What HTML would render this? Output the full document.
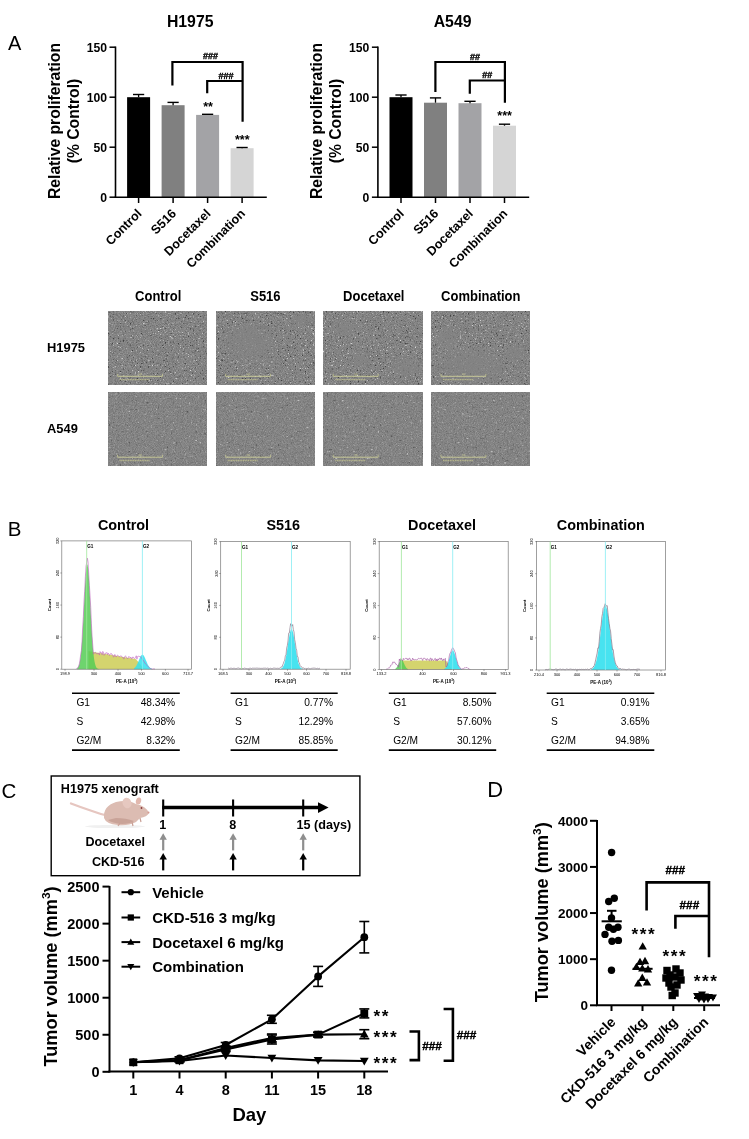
<!DOCTYPE html>
<html><head><meta charset="utf-8"><style>
html,body{margin:0;padding:0;background:#fff;width:749px;height:1139px;overflow:hidden}
svg{display:block;font-family:"Liberation Sans",sans-serif;will-change:transform}
</style></head><body>
<svg width="749" height="1139" viewBox="0 0 749 1139" font-family="Liberation Sans, sans-serif">
<defs>
<filter id="nA" x="0" y="0" width="100%" height="100%" color-interpolation-filters="sRGB">
<feTurbulence type="fractalNoise" baseFrequency="1.1" numOctaves="2" seed="3" result="t1"/>
<feColorMatrix in="t1" type="matrix" values="0.22 0 0 0 0.405  0.22 0 0 0 0.405  0.22 0 0 0 0.405  0 0 0 0 1" result="g"/>
<feTurbulence type="fractalNoise" baseFrequency="0.45" numOctaves="1" seed="11" result="t2"/>
<feColorMatrix in="t2" type="matrix" values="0 0 0 0 0.3  0 0 0 0 0.3  0 0 0 0 0.3  5 0 0 0 -3.3" result="d"/>
<feColorMatrix in="t2" type="matrix" values="0 0 0 0 0.8  0 0 0 0 0.8  0 0 0 0 0.8  0 5 0 0 -3.3" result="b"/>
<feMerge><feMergeNode in="g"/><feMergeNode in="d"/><feMergeNode in="b"/></feMerge>
</filter>
<filter id="nH" x="0" y="0" width="100%" height="100%" color-interpolation-filters="sRGB">
<feTurbulence type="fractalNoise" baseFrequency="1.1" numOctaves="2" seed="5" result="t1"/>
<feColorMatrix in="t1" type="matrix" values="0.24 0 0 0 0.395  0.24 0 0 0 0.395  0.24 0 0 0 0.395  0 0 0 0 1" result="g"/>
<feTurbulence type="fractalNoise" baseFrequency="0.6" numOctaves="2" seed="17" result="t2"/>
<feColorMatrix in="t2" type="matrix" values="0 0 0 0 0.25  0 0 0 0 0.25  0 0 0 0 0.25  5 0 0 0 -3.15" result="d"/>
<feColorMatrix in="t2" type="matrix" values="0 0 0 0 0.85  0 0 0 0 0.85  0 0 0 0 0.85  0 5 0 0 -3.25" result="b"/>
<feMerge><feMergeNode in="g"/><feMergeNode in="d"/><feMergeNode in="b"/></feMerge>
</filter>
<radialGradient id="clr"><stop offset="0" stop-color="#838383" stop-opacity="0.85"/><stop offset="0.6" stop-color="#838383" stop-opacity="0.6"/><stop offset="1" stop-color="#838383" stop-opacity="0"/></radialGradient>
</defs>
<rect width="749" height="1139" fill="#fff"/>
<text x="8.00" y="50.00" font-size="20"  text-anchor="start" fill="#000" >A</text>
<text x="190.20" y="26.80" font-size="15.8" font-weight="bold" text-anchor="middle" fill="#000" >H1975</text>
<text x="59.70" y="121.00" font-size="15.7" font-weight="bold" text-anchor="middle" fill="#000" transform="rotate(-90 59.70 121.00)" >Relative proliferation</text>
<text x="78.60" y="121.00" font-size="15.7" font-weight="bold" text-anchor="middle" fill="#000" transform="rotate(-90 78.60 121.00)" >(% Control)</text>
<rect x="127.10" y="97.20" width="23.00" height="100.00" fill="#000000" stroke="none" stroke-width="0" />
<line x1="138.60" y1="97.20" x2="138.60" y2="94.50" stroke="#000" stroke-width="1.3" />
<line x1="133.00" y1="94.50" x2="144.20" y2="94.50" stroke="#000" stroke-width="1.4" />
<rect x="161.60" y="105.20" width="23.00" height="92.00" fill="#808080" stroke="none" stroke-width="0" />
<line x1="173.10" y1="105.20" x2="173.10" y2="102.40" stroke="#000" stroke-width="1.3" />
<line x1="167.50" y1="102.40" x2="178.70" y2="102.40" stroke="#000" stroke-width="1.4" />
<rect x="196.10" y="114.90" width="23.00" height="82.30" fill="#a3a3a6" stroke="none" stroke-width="0" />
<line x1="207.60" y1="114.90" x2="207.60" y2="114.30" stroke="#000" stroke-width="1.3" />
<line x1="202.00" y1="114.30" x2="213.20" y2="114.30" stroke="#000" stroke-width="1.4" />
<rect x="230.60" y="148.20" width="23.00" height="49.00" fill="#d5d5d5" stroke="none" stroke-width="0" />
<line x1="242.10" y1="148.20" x2="242.10" y2="147.50" stroke="#000" stroke-width="1.3" />
<line x1="236.50" y1="147.50" x2="247.70" y2="147.50" stroke="#000" stroke-width="1.4" />
<line x1="115.50" y1="46.50" x2="115.50" y2="197.90" stroke="#000" stroke-width="1.6" />
<line x1="114.70" y1="197.20" x2="266.80" y2="197.20" stroke="#000" stroke-width="1.6" />
<line x1="109.50" y1="197.20" x2="115.50" y2="197.20" stroke="#000" stroke-width="1.5" />
<text x="107.00" y="201.50" font-size="12.2" font-weight="bold" text-anchor="end" fill="#000" >0</text>
<line x1="109.50" y1="147.20" x2="115.50" y2="147.20" stroke="#000" stroke-width="1.5" />
<text x="107.00" y="151.50" font-size="12.2" font-weight="bold" text-anchor="end" fill="#000" >50</text>
<line x1="109.50" y1="97.20" x2="115.50" y2="97.20" stroke="#000" stroke-width="1.5" />
<text x="107.00" y="101.50" font-size="12.2" font-weight="bold" text-anchor="end" fill="#000" >100</text>
<line x1="109.50" y1="47.20" x2="115.50" y2="47.20" stroke="#000" stroke-width="1.5" />
<text x="107.00" y="51.50" font-size="12.2" font-weight="bold" text-anchor="end" fill="#000" >150</text>
<line x1="138.60" y1="197.20" x2="138.60" y2="203.00" stroke="#000" stroke-width="1.5" />
<line x1="173.10" y1="197.20" x2="173.10" y2="203.00" stroke="#000" stroke-width="1.5" />
<line x1="207.60" y1="197.20" x2="207.60" y2="203.00" stroke="#000" stroke-width="1.5" />
<line x1="242.10" y1="197.20" x2="242.10" y2="203.00" stroke="#000" stroke-width="1.5" />
<text x="142.40" y="214.30" font-size="12.6" font-weight="bold" text-anchor="end" fill="#000" transform="rotate(-45 142.40 214.30)" >Control</text>
<text x="176.90" y="214.30" font-size="12.6" font-weight="bold" text-anchor="end" fill="#000" transform="rotate(-45 176.90 214.30)" >S516</text>
<text x="211.40" y="214.30" font-size="12.6" font-weight="bold" text-anchor="end" fill="#000" transform="rotate(-45 211.40 214.30)" >Docetaxel</text>
<text x="245.90" y="214.30" font-size="12.6" font-weight="bold" text-anchor="end" fill="#000" transform="rotate(-45 245.90 214.30)" >Combination</text>
<polyline points="172.40,85.60 172.40,62.00 242.60,62.00 242.60,121.80" stroke="#000" stroke-width="2.2" fill="none" stroke-linejoin="miter" stroke-linecap="butt"/>
<polyline points="207.20,93.30 207.20,81.00 242.60,81.00" stroke="#000" stroke-width="2.2" fill="none" stroke-linejoin="miter" stroke-linecap="butt"/>
<text x="210.50" y="59.20" font-size="9" font-weight="bold" text-anchor="middle" fill="#000" stroke="#000" stroke-width="0.35">###</text>
<text x="226.00" y="78.60" font-size="9" font-weight="bold" text-anchor="middle" fill="#000" stroke="#000" stroke-width="0.35">###</text>
<text x="208.00" y="110.50" font-size="12.5" font-weight="bold" text-anchor="middle" fill="#000" >**</text>
<text x="242.30" y="144.00" font-size="12.5" font-weight="bold" text-anchor="middle" fill="#000" >***</text>
<text x="452.60" y="26.80" font-size="15.8" font-weight="bold" text-anchor="middle" fill="#000" >A549</text>
<text x="322.10" y="121.00" font-size="15.7" font-weight="bold" text-anchor="middle" fill="#000" transform="rotate(-90 322.10 121.00)" >Relative proliferation</text>
<text x="341.00" y="121.00" font-size="15.7" font-weight="bold" text-anchor="middle" fill="#000" transform="rotate(-90 341.00 121.00)" >(% Control)</text>
<rect x="389.50" y="97.20" width="23.00" height="100.00" fill="#000000" stroke="none" stroke-width="0" />
<line x1="401.00" y1="97.20" x2="401.00" y2="95.00" stroke="#000" stroke-width="1.3" />
<line x1="395.40" y1="95.00" x2="406.60" y2="95.00" stroke="#000" stroke-width="1.4" />
<rect x="424.00" y="102.70" width="23.00" height="94.50" fill="#808080" stroke="none" stroke-width="0" />
<line x1="435.50" y1="102.70" x2="435.50" y2="97.90" stroke="#000" stroke-width="1.3" />
<line x1="429.90" y1="97.90" x2="441.10" y2="97.90" stroke="#000" stroke-width="1.4" />
<rect x="458.50" y="103.20" width="23.00" height="94.00" fill="#a3a3a6" stroke="none" stroke-width="0" />
<line x1="470.00" y1="103.20" x2="470.00" y2="101.30" stroke="#000" stroke-width="1.3" />
<line x1="464.40" y1="101.30" x2="475.60" y2="101.30" stroke="#000" stroke-width="1.4" />
<rect x="493.00" y="125.70" width="23.00" height="71.50" fill="#d5d5d5" stroke="none" stroke-width="0" />
<line x1="504.50" y1="125.70" x2="504.50" y2="124.20" stroke="#000" stroke-width="1.3" />
<line x1="498.90" y1="124.20" x2="510.10" y2="124.20" stroke="#000" stroke-width="1.4" />
<line x1="377.90" y1="46.50" x2="377.90" y2="197.90" stroke="#000" stroke-width="1.6" />
<line x1="377.10" y1="197.20" x2="529.20" y2="197.20" stroke="#000" stroke-width="1.6" />
<line x1="371.90" y1="197.20" x2="377.90" y2="197.20" stroke="#000" stroke-width="1.5" />
<text x="369.40" y="201.50" font-size="12.2" font-weight="bold" text-anchor="end" fill="#000" >0</text>
<line x1="371.90" y1="147.20" x2="377.90" y2="147.20" stroke="#000" stroke-width="1.5" />
<text x="369.40" y="151.50" font-size="12.2" font-weight="bold" text-anchor="end" fill="#000" >50</text>
<line x1="371.90" y1="97.20" x2="377.90" y2="97.20" stroke="#000" stroke-width="1.5" />
<text x="369.40" y="101.50" font-size="12.2" font-weight="bold" text-anchor="end" fill="#000" >100</text>
<line x1="371.90" y1="47.20" x2="377.90" y2="47.20" stroke="#000" stroke-width="1.5" />
<text x="369.40" y="51.50" font-size="12.2" font-weight="bold" text-anchor="end" fill="#000" >150</text>
<line x1="401.00" y1="197.20" x2="401.00" y2="203.00" stroke="#000" stroke-width="1.5" />
<line x1="435.50" y1="197.20" x2="435.50" y2="203.00" stroke="#000" stroke-width="1.5" />
<line x1="470.00" y1="197.20" x2="470.00" y2="203.00" stroke="#000" stroke-width="1.5" />
<line x1="504.50" y1="197.20" x2="504.50" y2="203.00" stroke="#000" stroke-width="1.5" />
<text x="404.80" y="214.30" font-size="12.6" font-weight="bold" text-anchor="end" fill="#000" transform="rotate(-45 404.80 214.30)" >Control</text>
<text x="439.30" y="214.30" font-size="12.6" font-weight="bold" text-anchor="end" fill="#000" transform="rotate(-45 439.30 214.30)" >S516</text>
<text x="473.80" y="214.30" font-size="12.6" font-weight="bold" text-anchor="end" fill="#000" transform="rotate(-45 473.80 214.30)" >Docetaxel</text>
<text x="508.30" y="214.30" font-size="12.6" font-weight="bold" text-anchor="end" fill="#000" transform="rotate(-45 508.30 214.30)" >Combination</text>
<polyline points="435.40,92.00 435.40,62.00 504.90,62.00 504.90,102.80" stroke="#000" stroke-width="2.2" fill="none" stroke-linejoin="miter" stroke-linecap="butt"/>
<polyline points="469.80,93.70 469.80,80.50 504.90,80.50" stroke="#000" stroke-width="2.2" fill="none" stroke-linejoin="miter" stroke-linecap="butt"/>
<text x="475.00" y="60.20" font-size="9" font-weight="bold" text-anchor="middle" fill="#000" stroke="#000" stroke-width="0.35">##</text>
<text x="487.30" y="78.40" font-size="9" font-weight="bold" text-anchor="middle" fill="#000" stroke="#000" stroke-width="0.35">##</text>
<text x="504.60" y="120.00" font-size="12.5" font-weight="bold" text-anchor="middle" fill="#000" >***</text>
<text x="0" y="0" font-size="13" font-weight="bold" text-anchor="middle" fill="#000" transform="translate(158.20 300.80) scale(1 1.1)">Control</text>
<text x="0" y="0" font-size="13" font-weight="bold" text-anchor="middle" fill="#000" transform="translate(265.40 300.80) scale(1 1.1)">S516</text>
<text x="0" y="0" font-size="13" font-weight="bold" text-anchor="middle" fill="#000" transform="translate(373.80 300.80) scale(1 1.1)">Docetaxel</text>
<text x="0" y="0" font-size="13" font-weight="bold" text-anchor="middle" fill="#000" transform="translate(480.80 300.80) scale(1 1.1)">Combination</text>
<text x="0" y="0" font-size="12.9" font-weight="bold" text-anchor="start" fill="#000" transform="translate(47.00 351.90) scale(1 1.03)">H1975</text>
<text x="0" y="0" font-size="12.9" font-weight="bold" text-anchor="start" fill="#000" transform="translate(47.00 433.30) scale(1 1.03)">A549</text>
<rect x="108.00" y="311.20" width="98.50" height="73.00" fill="#8c8c8c" stroke="none" stroke-width="0" filter="url(#nH)"/>
<line x1="117.60" y1="376.30" x2="162.50" y2="376.30" stroke="#cfd09a" stroke-width="0.9" />
<line x1="117.60" y1="373.80" x2="117.60" y2="376.30" stroke="#cfd09a" stroke-width="0.7" />
<line x1="162.50" y1="373.80" x2="162.50" y2="376.30" stroke="#cfd09a" stroke-width="0.7" />
<line x1="138.50" y1="374.10" x2="142.00" y2="374.10" stroke="#cfd09a" stroke-width="0.7" />
<line x1="119.50" y1="379.60" x2="149.50" y2="379.60" stroke="#b4b48c" stroke-width="1.3" stroke-dasharray="1.2 0.5"/>
<rect x="216.10" y="311.20" width="98.50" height="73.00" fill="#8c8c8c" stroke="none" stroke-width="0" filter="url(#nH)"/>
<clipPath id="cp216"><rect x="216.1" y="311.2" width="98.5" height="73"/></clipPath><g clip-path="url(#cp216)">
<ellipse cx="250" cy="342" rx="30" ry="24" fill="url(#clr)"/>
<ellipse cx="300" cy="320" rx="10" ry="8" fill="url(#clr)"/>
</g>
<line x1="225.70" y1="376.30" x2="270.60" y2="376.30" stroke="#cfd09a" stroke-width="0.9" />
<line x1="225.70" y1="373.80" x2="225.70" y2="376.30" stroke="#cfd09a" stroke-width="0.7" />
<line x1="270.60" y1="373.80" x2="270.60" y2="376.30" stroke="#cfd09a" stroke-width="0.7" />
<line x1="246.60" y1="374.10" x2="250.10" y2="374.10" stroke="#cfd09a" stroke-width="0.7" />
<line x1="227.60" y1="379.60" x2="257.60" y2="379.60" stroke="#b4b48c" stroke-width="1.3" stroke-dasharray="1.2 0.5"/>
<rect x="323.70" y="311.20" width="98.50" height="73.00" fill="#8c8c8c" stroke="none" stroke-width="0" filter="url(#nH)"/>
<clipPath id="cp323"><rect x="323.7" y="311.2" width="98.5" height="73"/></clipPath><g clip-path="url(#cp323)">
<ellipse cx="345" cy="328" rx="14" ry="10" fill="url(#clr)"/>
<ellipse cx="405" cy="368" rx="16" ry="12" fill="url(#clr)"/>
<ellipse cx="360" cy="360" rx="12" ry="10" fill="url(#clr)"/>
</g>
<line x1="333.30" y1="376.30" x2="378.20" y2="376.30" stroke="#cfd09a" stroke-width="0.9" />
<line x1="333.30" y1="373.80" x2="333.30" y2="376.30" stroke="#cfd09a" stroke-width="0.7" />
<line x1="378.20" y1="373.80" x2="378.20" y2="376.30" stroke="#cfd09a" stroke-width="0.7" />
<line x1="354.20" y1="374.10" x2="357.70" y2="374.10" stroke="#cfd09a" stroke-width="0.7" />
<line x1="335.20" y1="379.60" x2="365.20" y2="379.60" stroke="#b4b48c" stroke-width="1.3" stroke-dasharray="1.2 0.5"/>
<rect x="431.40" y="311.20" width="98.50" height="73.00" fill="#8c8c8c" stroke="none" stroke-width="0" filter="url(#nH)"/>
<clipPath id="cp431"><rect x="431.4" y="311.2" width="98.5" height="73"/></clipPath><g clip-path="url(#cp431)">
<ellipse cx="470" cy="366" rx="42" ry="22" fill="url(#clr)"/>
<ellipse cx="447" cy="338" rx="14" ry="14" fill="url(#clr)"/>
<ellipse cx="515" cy="352" rx="12" ry="10" fill="url(#clr)"/>
</g>
<line x1="441.00" y1="376.30" x2="485.90" y2="376.30" stroke="#cfd09a" stroke-width="0.9" />
<line x1="441.00" y1="373.80" x2="441.00" y2="376.30" stroke="#cfd09a" stroke-width="0.7" />
<line x1="485.90" y1="373.80" x2="485.90" y2="376.30" stroke="#cfd09a" stroke-width="0.7" />
<line x1="461.90" y1="374.10" x2="465.40" y2="374.10" stroke="#cfd09a" stroke-width="0.7" />
<line x1="442.90" y1="379.60" x2="472.90" y2="379.60" stroke="#b4b48c" stroke-width="1.3" stroke-dasharray="1.2 0.5"/>
<rect x="108.00" y="392.10" width="98.50" height="73.00" fill="#8c8c8c" stroke="none" stroke-width="0" filter="url(#nA)"/>
<line x1="117.60" y1="457.20" x2="162.50" y2="457.20" stroke="#cfd09a" stroke-width="0.9" />
<line x1="117.60" y1="454.70" x2="117.60" y2="457.20" stroke="#cfd09a" stroke-width="0.7" />
<line x1="162.50" y1="454.70" x2="162.50" y2="457.20" stroke="#cfd09a" stroke-width="0.7" />
<line x1="138.50" y1="455.00" x2="142.00" y2="455.00" stroke="#cfd09a" stroke-width="0.7" />
<line x1="119.50" y1="460.50" x2="149.50" y2="460.50" stroke="#b4b48c" stroke-width="1.3" stroke-dasharray="1.2 0.5"/>
<rect x="216.10" y="392.10" width="98.50" height="73.00" fill="#8c8c8c" stroke="none" stroke-width="0" filter="url(#nA)"/>
<line x1="225.70" y1="457.20" x2="270.60" y2="457.20" stroke="#cfd09a" stroke-width="0.9" />
<line x1="225.70" y1="454.70" x2="225.70" y2="457.20" stroke="#cfd09a" stroke-width="0.7" />
<line x1="270.60" y1="454.70" x2="270.60" y2="457.20" stroke="#cfd09a" stroke-width="0.7" />
<line x1="246.60" y1="455.00" x2="250.10" y2="455.00" stroke="#cfd09a" stroke-width="0.7" />
<line x1="227.60" y1="460.50" x2="257.60" y2="460.50" stroke="#b4b48c" stroke-width="1.3" stroke-dasharray="1.2 0.5"/>
<rect x="323.70" y="392.10" width="98.50" height="73.00" fill="#8c8c8c" stroke="none" stroke-width="0" filter="url(#nA)"/>
<line x1="333.30" y1="457.20" x2="378.20" y2="457.20" stroke="#cfd09a" stroke-width="0.9" />
<line x1="333.30" y1="454.70" x2="333.30" y2="457.20" stroke="#cfd09a" stroke-width="0.7" />
<line x1="378.20" y1="454.70" x2="378.20" y2="457.20" stroke="#cfd09a" stroke-width="0.7" />
<line x1="354.20" y1="455.00" x2="357.70" y2="455.00" stroke="#cfd09a" stroke-width="0.7" />
<line x1="335.20" y1="460.50" x2="365.20" y2="460.50" stroke="#b4b48c" stroke-width="1.3" stroke-dasharray="1.2 0.5"/>
<rect x="431.40" y="392.10" width="98.50" height="73.00" fill="#8c8c8c" stroke="none" stroke-width="0" filter="url(#nA)"/>
<line x1="441.00" y1="457.20" x2="485.90" y2="457.20" stroke="#cfd09a" stroke-width="0.9" />
<line x1="441.00" y1="454.70" x2="441.00" y2="457.20" stroke="#cfd09a" stroke-width="0.7" />
<line x1="485.90" y1="454.70" x2="485.90" y2="457.20" stroke="#cfd09a" stroke-width="0.7" />
<line x1="461.90" y1="455.00" x2="465.40" y2="455.00" stroke="#cfd09a" stroke-width="0.7" />
<line x1="442.90" y1="460.50" x2="472.90" y2="460.50" stroke="#b4b48c" stroke-width="1.3" stroke-dasharray="1.2 0.5"/>
<text x="7.80" y="535.70" font-size="20.5"  text-anchor="start" fill="#000" >B</text>
<text x="123.50" y="530.40" font-size="14.4" font-weight="bold" text-anchor="middle" fill="#000" >Control</text>
<path d="M88.50,669.20 L88.50,651.12 L89.00,651.20 L89.50,651.29 L90.00,651.37 L90.50,651.46 L91.00,651.54 L91.50,651.62 L92.00,651.71 L92.50,651.80 L93.00,651.88 L93.50,651.97 L94.00,652.05 L94.50,652.13 L95.00,652.22 L95.50,652.31 L96.00,652.39 L96.50,652.48 L97.00,652.56 L97.50,652.65 L98.00,652.73 L98.50,652.82 L99.00,652.90 L99.50,652.99 L100.00,653.07 L100.50,653.16 L101.00,653.24 L101.50,653.33 L102.00,653.41 L102.50,653.50 L103.00,653.58 L103.50,653.67 L104.00,653.75 L104.50,653.84 L105.00,653.92 L105.50,654.00 L106.00,654.09 L106.50,654.18 L107.00,654.26 L107.50,654.35 L108.00,654.43 L108.50,654.52 L109.00,654.60 L109.50,654.69 L110.00,654.77 L110.50,654.86 L111.00,654.94 L111.50,655.03 L112.00,655.11 L112.50,655.20 L113.00,655.28 L113.50,655.37 L114.00,655.45 L114.50,655.54 L115.00,655.62 L115.50,655.71 L116.00,655.79 L116.50,655.88 L117.00,655.96 L117.50,656.05 L118.00,656.13 L118.50,656.22 L119.00,656.30 L119.50,656.38 L120.00,656.47 L120.50,656.56 L121.00,656.64 L121.50,656.73 L122.00,656.81 L122.50,656.90 L123.00,656.98 L123.50,657.07 L124.00,657.15 L124.50,657.24 L125.00,657.32 L125.50,657.41 L126.00,657.49 L126.50,657.58 L127.00,657.66 L127.50,657.75 L128.00,657.83 L128.50,657.92 L129.00,658.00 L129.50,658.09 L130.00,658.17 L130.50,658.25 L131.00,658.34 L131.50,658.43 L132.00,658.51 L132.50,658.60 L133.00,658.68 L133.50,658.77 L134.00,658.85 L134.50,658.94 L135.00,659.02 L135.50,659.11 L136.00,659.19 L136.50,659.79 L137.00,660.39 L137.50,660.99 L138.00,661.59 L138.50,662.19 L139.00,662.79 L139.50,663.39 L140.00,663.99 L140.50,664.59 L141.00,665.19 L141.50,665.79 L142.00,666.39 L142.50,666.99 L143.00,667.59 L143.00,669.20 Z" fill="#cccc55" fill-opacity="0.85" stroke="none"/>
<path d="M77.00,669.20 L77.00,668.55 L77.50,668.14 L78.00,667.52 L78.50,666.59 L79.00,665.26 L79.50,663.39 L80.00,660.85 L80.50,657.47 L81.00,653.13 L81.50,647.71 L82.00,641.16 L82.50,633.49 L83.00,624.83 L83.50,615.39 L84.00,605.51 L84.50,595.65 L85.00,586.30 L85.50,578.02 L86.00,571.33 L86.50,566.68 L87.00,564.40 L87.50,564.66 L88.00,567.43 L88.50,572.52 L89.00,579.56 L89.50,588.10 L90.00,597.60 L90.50,607.50 L91.00,617.32 L91.50,626.63 L92.00,635.11 L92.50,642.56 L93.00,648.88 L93.50,654.08 L94.00,658.22 L94.50,661.42 L95.00,663.82 L95.50,665.57 L96.00,666.81 L96.50,667.66 L97.00,668.23 L97.50,668.61 L98.00,668.85 L98.50,668.99 L99.00,669.08 L99.50,669.13 L100.00,669.16 L100.00,669.20 Z" fill="#55cc55" fill-opacity="0.85" stroke="none"/>
<path d="M134.00,669.20 L134.00,668.25 L134.50,667.89 L135.00,667.45 L135.50,666.89 L136.00,666.21 L136.50,665.41 L137.00,664.49 L137.50,663.46 L138.00,662.33 L138.50,661.14 L139.00,659.92 L139.50,658.72 L140.00,657.59 L140.50,656.59 L141.00,655.76 L141.50,655.15 L142.00,654.79 L142.50,654.71 L143.00,654.90 L143.50,655.36 L144.00,656.06 L144.50,656.97 L145.00,658.03 L145.50,659.19 L146.00,660.41 L146.50,661.62 L147.00,662.79 L147.50,663.88 L148.00,664.88 L148.50,665.75 L149.00,666.50 L149.50,667.13 L150.00,667.64 L150.50,668.05 L151.00,668.36 L151.50,668.61 L152.00,668.79 L152.00,669.20 Z" fill="#33e0ee" fill-opacity="0.85" stroke="none"/>
<polyline points="76.00,669.20 76.67,668.47 77.34,668.04 78.01,667.69 78.68,666.06 79.35,663.93 80.02,660.01 80.69,654.34 81.36,650.66 82.03,642.07 82.69,627.06 83.36,616.39 84.03,601.08 84.70,591.29 85.37,576.87 86.04,566.00 86.71,562.82 87.38,558.15 88.05,561.98 88.72,574.18 89.39,585.33 90.06,595.87 90.73,607.66 91.40,623.70 92.07,636.34 92.74,645.20 93.41,654.18 94.08,653.37 94.75,652.47 95.42,652.31 96.08,653.64 96.75,653.76 97.42,653.92 98.09,652.93 98.76,653.81 99.43,655.12 100.10,651.58 100.77,652.95 101.44,652.69 102.11,654.81 102.78,651.40 103.45,652.10 104.12,655.40 104.79,654.60 105.46,653.06 106.13,653.22 106.80,652.40 107.47,654.66 108.14,653.09 108.81,653.87 109.47,655.48 110.14,654.44 110.81,653.37 111.48,653.64 112.15,655.11 112.82,654.90 113.49,657.19 114.16,656.48 114.83,654.44 115.50,656.03 116.17,657.07 116.84,655.75 117.51,655.28 118.18,655.51 118.85,656.74 119.52,656.61 120.19,656.47 120.86,655.61 121.53,656.65 122.19,657.22 122.86,656.99 123.53,658.72 124.20,658.77 124.87,656.60 125.54,655.75 126.21,657.21 126.88,658.00 127.55,658.85 128.22,657.85 128.89,656.38 129.56,657.18 130.23,658.03 130.90,657.08 131.57,659.16 132.24,658.28 132.91,656.86 133.58,657.99 134.25,658.23 134.92,658.62 135.58,657.35 136.25,655.76 136.92,659.15 137.59,656.54 138.26,656.39 138.93,656.11 139.60,656.59 140.27,656.42 140.94,657.62 141.61,657.89 142.28,658.96 142.95,660.90 143.62,660.70 144.29,661.97 144.96,663.46 145.63,663.61 146.30,664.50 146.97,665.53 147.64,666.31 148.31,666.76 148.97,667.28 149.64,667.80 150.31,668.32 150.98,668.93 151.65,668.98 152.32,669.15 152.99,668.98 153.66,668.88 154.33,668.96 155.00,668.99" stroke="#c060c0" stroke-width="0.6" fill="none" />
<rect x="61.80" y="540.90" width="129.80" height="128.30" fill="none" stroke="#777" stroke-width="0.7" />
<line x1="86.70" y1="540.90" x2="86.70" y2="669.20" stroke="#9fe69a" stroke-width="0.8" />
<line x1="142.40" y1="540.90" x2="142.40" y2="669.20" stroke="#86ecf2" stroke-width="0.8" />
<text x="87.20" y="548.20" font-size="4.6" font-weight="bold" text-anchor="start" fill="#000" >G1</text>
<text x="142.90" y="548.20" font-size="4.6" font-weight="bold" text-anchor="start" fill="#000" >G2</text>
<text x="58.60" y="669.20" font-size="4"  text-anchor="middle" fill="#000" transform="rotate(-90 58.60 669.20)" >0</text>
<line x1="60.30" y1="669.20" x2="61.80" y2="669.20" stroke="#555" stroke-width="0.5" />
<text x="58.60" y="637.12" font-size="4"  text-anchor="middle" fill="#000" transform="rotate(-90 58.60 637.12)" >80</text>
<line x1="60.30" y1="637.12" x2="61.80" y2="637.12" stroke="#555" stroke-width="0.5" />
<text x="58.60" y="605.05" font-size="4"  text-anchor="middle" fill="#000" transform="rotate(-90 58.60 605.05)" >160</text>
<line x1="60.30" y1="605.05" x2="61.80" y2="605.05" stroke="#555" stroke-width="0.5" />
<text x="58.60" y="572.98" font-size="4"  text-anchor="middle" fill="#000" transform="rotate(-90 58.60 572.98)" >240</text>
<line x1="60.30" y1="572.98" x2="61.80" y2="572.98" stroke="#555" stroke-width="0.5" />
<text x="58.60" y="540.90" font-size="4"  text-anchor="middle" fill="#000" transform="rotate(-90 58.60 540.90)" >320</text>
<line x1="60.30" y1="540.90" x2="61.80" y2="540.90" stroke="#555" stroke-width="0.5" />
<text x="50.80" y="605.05" font-size="4.3" font-weight="bold" text-anchor="middle" fill="#000" transform="rotate(-90 50.80 605.05)" >Count</text>
<text x="65.00" y="674.80" font-size="4"  text-anchor="middle" fill="#000" >198.9</text>
<line x1="65.00" y1="669.20" x2="65.00" y2="670.70" stroke="#555" stroke-width="0.5" />
<text x="94.00" y="674.80" font-size="4"  text-anchor="middle" fill="#000" >300</text>
<line x1="94.00" y1="669.20" x2="94.00" y2="670.70" stroke="#555" stroke-width="0.5" />
<text x="118.00" y="674.80" font-size="4"  text-anchor="middle" fill="#000" >400</text>
<line x1="118.00" y1="669.20" x2="118.00" y2="670.70" stroke="#555" stroke-width="0.5" />
<text x="141.50" y="674.80" font-size="4"  text-anchor="middle" fill="#000" >500</text>
<line x1="141.50" y1="669.20" x2="141.50" y2="670.70" stroke="#555" stroke-width="0.5" />
<text x="165.40" y="674.80" font-size="4"  text-anchor="middle" fill="#000" >600</text>
<line x1="165.40" y1="669.20" x2="165.40" y2="670.70" stroke="#555" stroke-width="0.5" />
<text x="188.00" y="674.80" font-size="4"  text-anchor="middle" fill="#000" >713.7</text>
<line x1="188.00" y1="669.20" x2="188.00" y2="670.70" stroke="#555" stroke-width="0.5" />
<text x="126.70" y="682.70" font-size="4.5" font-weight="bold" text-anchor="middle" fill="#000" >PE-A  (10<tspan font-size="3" dy="-2">3</tspan><tspan dy="2">)</tspan></text>
<line x1="72.00" y1="693.30" x2="179.80" y2="693.30" stroke="#000" stroke-width="1.6" />
<line x1="72.00" y1="750.10" x2="179.80" y2="750.10" stroke="#000" stroke-width="1.6" />
<text x="76.40" y="706.20" font-size="10.2"  text-anchor="start" fill="#000" >G1</text>
<text x="175.20" y="706.20" font-size="10.2"  text-anchor="end" fill="#000" >48.34%</text>
<text x="76.40" y="724.90" font-size="10.2"  text-anchor="start" fill="#000" >S</text>
<text x="175.20" y="724.90" font-size="10.2"  text-anchor="end" fill="#000" >42.98%</text>
<text x="76.40" y="743.70" font-size="10.2"  text-anchor="start" fill="#000" >G2/M</text>
<text x="175.20" y="743.70" font-size="10.2"  text-anchor="end" fill="#000" >8.32%</text>
<text x="283.20" y="530.40" font-size="14.4" font-weight="bold" text-anchor="middle" fill="#000" >S516</text>
<path d="M280.00,669.20 L280.00,668.96 L280.50,668.82 L281.00,668.63 L281.50,668.36 L282.00,667.97 L282.50,667.44 L283.00,666.74 L283.50,665.81 L284.00,664.63 L284.50,663.16 L285.00,661.36 L285.50,659.23 L286.00,656.75 L286.50,653.95 L287.00,650.89 L287.50,647.62 L288.00,644.27 L288.50,640.93 L289.00,637.77 L289.50,634.92 L290.00,632.53 L290.50,630.71 L291.00,629.58 L291.50,629.20 L292.00,629.58 L292.50,630.71 L293.00,632.53 L293.50,634.92 L294.00,637.77 L294.50,640.93 L295.00,644.27 L295.50,647.62 L296.00,650.89 L296.50,653.95 L297.00,656.75 L297.50,659.23 L298.00,661.36 L298.50,663.16 L299.00,664.63 L299.50,665.81 L300.00,666.74 L300.50,667.44 L301.00,667.97 L301.50,668.36 L302.00,668.63 L302.50,668.82 L303.00,668.96 L303.00,669.20 Z" fill="#33e0ee" fill-opacity="0.9" stroke="none"/>
<polyline points="228.00,668.04 228.67,668.05 229.33,668.75 230.00,668.73 230.67,668.13 231.33,668.21 232.00,668.27 232.67,668.55 233.33,668.32 234.00,668.32 234.67,668.34 235.33,668.67 236.00,668.45 236.67,668.48 237.33,668.22 238.00,668.01 238.67,668.04 239.33,668.37 240.00,668.44 240.67,668.58 241.33,668.77 242.00,668.77 242.67,668.43 243.33,668.54 244.00,668.50 244.67,668.09 245.33,668.38 246.00,668.35 246.67,668.61 247.33,668.78 248.00,668.54 248.67,668.69 249.33,668.39 250.00,668.01 250.67,668.26 251.33,668.65 252.00,668.09 252.67,668.16 253.33,668.21 254.00,668.08 254.67,668.19 255.33,668.17 256.00,668.52 256.67,668.02 257.33,668.03 258.00,668.67 258.67,668.20 259.33,668.23 260.00,668.43 260.67,668.38 261.33,668.41 262.00,668.06 262.67,668.40 263.33,668.14 264.00,668.52 264.67,668.10 265.33,668.08 266.00,668.43 266.67,668.35 267.33,668.07 268.00,668.22 268.67,668.41 269.33,668.62 270.00,668.54 270.67,668.24 271.33,668.66 272.00,668.08 272.67,668.58 273.33,668.07 274.00,668.55 274.67,668.04 275.33,668.23 276.00,668.39 276.67,668.36 277.33,668.24 278.00,668.25 278.67,668.41 279.33,668.39 280.00,667.94 280.67,667.22 281.33,667.04 282.00,667.00 282.67,664.97 283.33,663.61 284.00,661.19 284.67,660.56 285.33,655.72 286.00,654.95 286.67,648.04 287.33,645.41 288.00,640.98 288.67,633.20 289.33,632.97 290.00,627.59 290.67,623.68 291.33,625.72 292.00,626.23 292.67,624.52 293.33,629.62 294.00,631.88 294.67,639.65 295.33,642.63 296.00,648.22 296.67,650.08 297.33,656.54 298.00,656.74 298.67,662.19 299.33,662.67 300.00,665.59 300.67,666.34 301.33,666.49 302.00,667.78 302.67,668.11 303.33,667.89 304.00,668.30 304.67,668.66 305.33,667.95 306.00,668.65 306.67,668.75 307.33,668.52 308.00,668.31 308.67,668.21 309.33,668.71 310.00,668.53 310.67,668.77 311.33,668.44 312.00,668.19 312.67,668.21 313.33,668.08 314.00,668.20 314.67,668.11 315.33,668.24 316.00,668.42 316.67,668.62 317.33,668.27 318.00,668.55 318.67,668.72 319.33,668.44 320.00,668.10" stroke="#7a6a80" stroke-width="0.6" fill="none" />
<rect x="220.70" y="541.60" width="129.50" height="127.60" fill="none" stroke="#777" stroke-width="0.7" />
<line x1="241.50" y1="541.60" x2="241.50" y2="669.20" stroke="#9fe69a" stroke-width="0.8" />
<line x1="291.50" y1="541.60" x2="291.50" y2="669.20" stroke="#86ecf2" stroke-width="0.8" />
<text x="242.00" y="548.90" font-size="4.6" font-weight="bold" text-anchor="start" fill="#000" >G1</text>
<text x="292.00" y="548.90" font-size="4.6" font-weight="bold" text-anchor="start" fill="#000" >G2</text>
<text x="217.50" y="669.20" font-size="4"  text-anchor="middle" fill="#000" transform="rotate(-90 217.50 669.20)" >0</text>
<line x1="219.20" y1="669.20" x2="220.70" y2="669.20" stroke="#555" stroke-width="0.5" />
<text x="217.50" y="637.30" font-size="4"  text-anchor="middle" fill="#000" transform="rotate(-90 217.50 637.30)" >80</text>
<line x1="219.20" y1="637.30" x2="220.70" y2="637.30" stroke="#555" stroke-width="0.5" />
<text x="217.50" y="605.40" font-size="4"  text-anchor="middle" fill="#000" transform="rotate(-90 217.50 605.40)" >160</text>
<line x1="219.20" y1="605.40" x2="220.70" y2="605.40" stroke="#555" stroke-width="0.5" />
<text x="217.50" y="573.50" font-size="4"  text-anchor="middle" fill="#000" transform="rotate(-90 217.50 573.50)" >240</text>
<line x1="219.20" y1="573.50" x2="220.70" y2="573.50" stroke="#555" stroke-width="0.5" />
<text x="217.50" y="541.60" font-size="4"  text-anchor="middle" fill="#000" transform="rotate(-90 217.50 541.60)" >320</text>
<line x1="219.20" y1="541.60" x2="220.70" y2="541.60" stroke="#555" stroke-width="0.5" />
<text x="209.70" y="605.40" font-size="4.3" font-weight="bold" text-anchor="middle" fill="#000" transform="rotate(-90 209.70 605.40)" >Count</text>
<text x="223.00" y="674.80" font-size="4"  text-anchor="middle" fill="#000" >168.5</text>
<line x1="223.00" y1="669.20" x2="223.00" y2="670.70" stroke="#555" stroke-width="0.5" />
<text x="249.00" y="674.80" font-size="4"  text-anchor="middle" fill="#000" >300</text>
<line x1="249.00" y1="669.20" x2="249.00" y2="670.70" stroke="#555" stroke-width="0.5" />
<text x="268.50" y="674.80" font-size="4"  text-anchor="middle" fill="#000" >400</text>
<line x1="268.50" y1="669.20" x2="268.50" y2="670.70" stroke="#555" stroke-width="0.5" />
<text x="287.50" y="674.80" font-size="4"  text-anchor="middle" fill="#000" >500</text>
<line x1="287.50" y1="669.20" x2="287.50" y2="670.70" stroke="#555" stroke-width="0.5" />
<text x="306.50" y="674.80" font-size="4"  text-anchor="middle" fill="#000" >600</text>
<line x1="306.50" y1="669.20" x2="306.50" y2="670.70" stroke="#555" stroke-width="0.5" />
<text x="326.00" y="674.80" font-size="4"  text-anchor="middle" fill="#000" >700</text>
<line x1="326.00" y1="669.20" x2="326.00" y2="670.70" stroke="#555" stroke-width="0.5" />
<text x="346.00" y="674.80" font-size="4"  text-anchor="middle" fill="#000" >818.8</text>
<line x1="346.00" y1="669.20" x2="346.00" y2="670.70" stroke="#555" stroke-width="0.5" />
<text x="285.45" y="682.70" font-size="4.5" font-weight="bold" text-anchor="middle" fill="#000" >PE-A  (10<tspan font-size="3" dy="-2">3</tspan><tspan dy="2">)</tspan></text>
<line x1="230.60" y1="693.30" x2="337.70" y2="693.30" stroke="#000" stroke-width="1.6" />
<line x1="230.60" y1="750.10" x2="337.70" y2="750.10" stroke="#000" stroke-width="1.6" />
<text x="235.00" y="706.20" font-size="10.2"  text-anchor="start" fill="#000" >G1</text>
<text x="333.10" y="706.20" font-size="10.2"  text-anchor="end" fill="#000" >0.77%</text>
<text x="235.00" y="724.90" font-size="10.2"  text-anchor="start" fill="#000" >S</text>
<text x="333.10" y="724.90" font-size="10.2"  text-anchor="end" fill="#000" >12.29%</text>
<text x="235.00" y="743.70" font-size="10.2"  text-anchor="start" fill="#000" >G2/M</text>
<text x="333.10" y="743.70" font-size="10.2"  text-anchor="end" fill="#000" >85.85%</text>
<text x="442.00" y="530.40" font-size="14.4" font-weight="bold" text-anchor="middle" fill="#000" >Docetaxel</text>
<path d="M401.00,669.50 L401.00,660.50 L401.50,660.50 L402.00,660.50 L402.50,660.50 L403.00,660.50 L403.50,660.50 L404.00,660.50 L404.50,660.50 L405.00,660.50 L405.50,660.50 L406.00,660.50 L406.50,660.50 L407.00,660.50 L407.50,660.50 L408.00,660.50 L408.50,660.50 L409.00,660.50 L409.50,660.50 L410.00,660.50 L410.50,660.50 L411.00,660.50 L411.50,660.50 L412.00,660.50 L412.50,660.50 L413.00,660.50 L413.50,660.50 L414.00,660.50 L414.50,660.50 L415.00,660.50 L415.50,660.50 L416.00,660.50 L416.50,660.50 L417.00,660.50 L417.50,660.50 L418.00,660.50 L418.50,660.50 L419.00,660.50 L419.50,660.50 L420.00,660.50 L420.50,660.50 L421.00,660.50 L421.50,660.50 L422.00,660.50 L422.50,660.50 L423.00,660.50 L423.50,660.50 L424.00,660.50 L424.50,660.50 L425.00,660.50 L425.50,660.50 L426.00,660.50 L426.50,660.50 L427.00,660.50 L427.50,660.50 L428.00,660.50 L428.50,660.50 L429.00,660.50 L429.50,660.50 L430.00,660.50 L430.50,660.50 L431.00,660.50 L431.50,660.50 L432.00,660.50 L432.50,660.50 L433.00,660.50 L433.50,660.50 L434.00,660.50 L434.50,660.50 L435.00,660.50 L435.50,660.50 L436.00,660.50 L436.50,660.50 L437.00,660.50 L437.50,660.50 L438.00,660.50 L438.50,660.50 L439.00,660.50 L439.50,660.50 L440.00,660.50 L440.50,660.50 L441.00,660.50 L441.50,660.50 L442.00,660.50 L442.50,660.50 L443.00,660.50 L443.50,660.50 L444.00,660.50 L444.50,660.50 L445.00,660.50 L445.50,660.50 L446.00,660.50 L446.50,661.25 L447.00,662.00 L447.50,662.75 L448.00,663.50 L448.50,664.25 L449.00,665.00 L449.50,665.75 L450.00,666.50 L450.50,667.25 L451.00,668.00 L451.50,668.75 L452.00,669.50 L452.00,669.50 Z" fill="#cccc55" fill-opacity="0.85" stroke="none"/>
<path d="M395.00,669.50 L395.00,669.02 L395.50,668.74 L396.00,668.34 L396.50,667.81 L397.00,667.11 L397.50,666.25 L398.00,665.25 L398.50,664.13 L399.00,662.97 L399.50,661.84 L400.00,660.85 L400.50,660.08 L401.00,659.62 L401.50,659.51 L402.00,659.76 L402.50,660.36 L403.00,661.23 L403.50,662.28 L404.00,663.43 L404.50,664.59 L405.00,665.67 L405.50,666.62 L406.00,667.41 L406.50,668.04 L407.00,668.52 L407.50,668.86 L408.00,669.10 L408.00,669.50 Z" fill="#55cc55" fill-opacity="0.85" stroke="none"/>
<path d="M444.00,669.50 L444.00,669.03 L444.50,668.79 L445.00,668.45 L445.50,667.99 L446.00,667.38 L446.50,666.59 L447.00,665.61 L447.50,664.43 L448.00,663.04 L448.50,661.47 L449.00,659.76 L449.50,657.98 L450.00,656.19 L450.50,654.50 L451.00,653.00 L451.50,651.79 L452.00,650.95 L452.50,650.54 L453.00,650.58 L453.50,651.08 L454.00,652.00 L454.50,653.28 L455.00,654.83 L455.50,656.54 L456.00,658.34 L456.50,660.11 L457.00,661.80 L457.50,663.33 L458.00,664.68 L458.50,665.82 L459.00,666.76 L459.50,667.51 L460.00,668.09 L460.50,668.53 L461.00,668.84 L461.50,669.07 L462.00,669.22 L462.00,669.50 Z" fill="#33e0ee" fill-opacity="0.9" stroke="none"/>
<polyline points="386.00,669.47 386.67,669.12 387.33,669.00 388.00,668.47 388.67,667.94 389.33,667.89 390.00,667.25 390.67,665.22 391.33,665.20 392.00,664.41 392.67,662.11 393.33,662.74 394.00,661.73 394.67,662.72 395.33,662.86 396.00,664.57 396.67,664.55 397.33,665.17 398.00,666.59 398.67,667.15 399.33,658.99 400.00,660.81 400.67,658.73 401.33,659.23 402.00,660.10 402.67,660.91 403.33,658.40 404.00,659.58 404.67,658.84 405.33,658.36 406.00,658.86 406.67,658.24 407.33,659.82 408.00,658.60 408.67,659.67 409.33,658.19 410.00,658.36 410.67,660.71 411.33,660.59 412.00,660.35 412.67,658.10 413.33,659.69 414.00,659.12 414.67,660.10 415.33,659.48 416.00,659.84 416.67,659.95 417.33,659.24 418.00,659.25 418.67,658.29 419.33,658.95 420.00,658.21 420.67,658.43 421.33,658.03 422.00,658.99 422.67,660.51 423.33,658.42 424.00,658.11 424.67,658.29 425.33,659.29 426.00,658.86 426.67,660.37 427.33,658.51 428.00,659.28 428.67,660.15 429.33,660.81 430.00,658.44 430.67,658.03 431.33,660.73 432.00,658.60 432.67,659.77 433.33,660.55 434.00,660.12 434.67,658.69 435.33,658.38 436.00,660.87 436.67,659.16 437.33,660.86 438.00,658.84 438.67,660.01 439.33,658.35 440.00,658.05 440.67,659.47 441.33,657.96 442.00,660.00 442.67,660.63 443.33,658.90 444.00,660.44 444.67,659.57 445.33,658.32 446.00,667.03 446.67,666.45 447.33,665.19 448.00,661.51 448.67,660.55 449.33,655.82 450.00,653.15 450.67,652.92 451.33,650.53 452.00,648.90 452.67,647.78 453.33,648.43 454.00,649.87 454.67,651.54 455.33,652.68 456.00,657.14 456.67,659.96 457.33,661.62 458.00,664.66 458.67,666.10 459.33,666.47 460.00,667.90 460.67,668.46 461.33,669.19 462.00,668.98 462.67,668.78 463.33,668.99 464.00,668.14 464.67,667.75 465.33,668.06 466.00,667.36 466.67,667.64 467.33,667.72 468.00,668.42 468.67,668.51 469.33,668.83 470.00,669.50" stroke="#a050a0" stroke-width="0.6" fill="none" />
<rect x="379.20" y="541.60" width="129.00" height="127.90" fill="none" stroke="#777" stroke-width="0.7" />
<line x1="401.40" y1="541.60" x2="401.40" y2="669.50" stroke="#9fe69a" stroke-width="0.8" />
<line x1="452.70" y1="541.60" x2="452.70" y2="669.50" stroke="#86ecf2" stroke-width="0.8" />
<text x="401.90" y="548.90" font-size="4.6" font-weight="bold" text-anchor="start" fill="#000" >G1</text>
<text x="453.20" y="548.90" font-size="4.6" font-weight="bold" text-anchor="start" fill="#000" >G2</text>
<text x="376.00" y="669.50" font-size="4"  text-anchor="middle" fill="#000" transform="rotate(-90 376.00 669.50)" >0</text>
<line x1="377.70" y1="669.50" x2="379.20" y2="669.50" stroke="#555" stroke-width="0.5" />
<text x="376.00" y="637.52" font-size="4"  text-anchor="middle" fill="#000" transform="rotate(-90 376.00 637.52)" >80</text>
<line x1="377.70" y1="637.52" x2="379.20" y2="637.52" stroke="#555" stroke-width="0.5" />
<text x="376.00" y="605.55" font-size="4"  text-anchor="middle" fill="#000" transform="rotate(-90 376.00 605.55)" >160</text>
<line x1="377.70" y1="605.55" x2="379.20" y2="605.55" stroke="#555" stroke-width="0.5" />
<text x="376.00" y="573.58" font-size="4"  text-anchor="middle" fill="#000" transform="rotate(-90 376.00 573.58)" >240</text>
<line x1="377.70" y1="573.58" x2="379.20" y2="573.58" stroke="#555" stroke-width="0.5" />
<text x="376.00" y="541.60" font-size="4"  text-anchor="middle" fill="#000" transform="rotate(-90 376.00 541.60)" >320</text>
<line x1="377.70" y1="541.60" x2="379.20" y2="541.60" stroke="#555" stroke-width="0.5" />
<text x="368.20" y="605.55" font-size="4.3" font-weight="bold" text-anchor="middle" fill="#000" transform="rotate(-90 368.20 605.55)" >Count</text>
<text x="381.50" y="675.10" font-size="4"  text-anchor="middle" fill="#000" >133.2</text>
<line x1="381.50" y1="669.50" x2="381.50" y2="671.00" stroke="#555" stroke-width="0.5" />
<text x="422.50" y="675.10" font-size="4"  text-anchor="middle" fill="#000" >400</text>
<line x1="422.50" y1="669.50" x2="422.50" y2="671.00" stroke="#555" stroke-width="0.5" />
<text x="453.50" y="675.10" font-size="4"  text-anchor="middle" fill="#000" >600</text>
<line x1="453.50" y1="669.50" x2="453.50" y2="671.00" stroke="#555" stroke-width="0.5" />
<text x="484.00" y="675.10" font-size="4"  text-anchor="middle" fill="#000" >800</text>
<line x1="484.00" y1="669.50" x2="484.00" y2="671.00" stroke="#555" stroke-width="0.5" />
<text x="505.50" y="675.10" font-size="4"  text-anchor="middle" fill="#000" >931.3</text>
<line x1="505.50" y1="669.50" x2="505.50" y2="671.00" stroke="#555" stroke-width="0.5" />
<text x="443.70" y="683.00" font-size="4.5" font-weight="bold" text-anchor="middle" fill="#000" >PE-A  (10<tspan font-size="3" dy="-2">3</tspan><tspan dy="2">)</tspan></text>
<line x1="388.80" y1="693.30" x2="496.20" y2="693.30" stroke="#000" stroke-width="1.6" />
<line x1="388.80" y1="750.10" x2="496.20" y2="750.10" stroke="#000" stroke-width="1.6" />
<text x="393.20" y="706.20" font-size="10.2"  text-anchor="start" fill="#000" >G1</text>
<text x="491.60" y="706.20" font-size="10.2"  text-anchor="end" fill="#000" >8.50%</text>
<text x="393.20" y="724.90" font-size="10.2"  text-anchor="start" fill="#000" >S</text>
<text x="491.60" y="724.90" font-size="10.2"  text-anchor="end" fill="#000" >57.60%</text>
<text x="393.20" y="743.70" font-size="10.2"  text-anchor="start" fill="#000" >G2/M</text>
<text x="491.60" y="743.70" font-size="10.2"  text-anchor="end" fill="#000" >30.12%</text>
<text x="600.80" y="530.40" font-size="14.4" font-weight="bold" text-anchor="middle" fill="#000" >Combination</text>
<path d="M591.00,670.00 L591.00,669.52 L591.50,669.33 L592.00,669.08 L592.50,668.75 L593.00,668.31 L593.50,667.75 L594.00,667.03 L594.50,666.14 L595.00,665.03 L595.50,663.68 L596.00,662.07 L596.50,660.15 L597.00,657.92 L597.50,655.35 L598.00,652.45 L598.50,649.22 L599.00,645.69 L599.50,641.88 L600.00,637.87 L600.50,633.71 L601.00,629.50 L601.50,625.32 L602.00,621.30 L602.50,617.53 L603.00,614.14 L603.50,611.23 L604.00,608.90 L604.50,607.21 L605.00,606.24 L605.50,606.02 L606.00,606.54 L606.50,607.80 L607.00,609.76 L607.50,612.33 L608.00,615.45 L608.50,619.00 L609.00,622.88 L609.50,626.98 L610.00,631.18 L610.50,635.39 L611.00,639.50 L611.50,643.43 L612.00,647.14 L612.50,650.55 L613.00,653.65 L613.50,656.42 L614.00,658.85 L614.50,660.96 L615.00,662.75 L615.50,664.25 L616.00,665.50 L616.50,666.52 L617.00,667.34 L617.50,667.99 L618.00,668.50 L618.50,668.89 L619.00,669.19 L619.50,669.42 L620.00,669.58 L620.50,669.71 L621.00,669.80 L621.00,670.00 Z" fill="#33e0ee" fill-opacity="0.9" stroke="none"/>
<polyline points="545.00,669.60 545.67,669.70 546.34,669.48 547.01,669.66 547.68,669.72 548.35,669.47 549.01,669.09 549.68,669.18 550.35,669.20 551.02,669.61 551.69,669.37 552.36,669.57 553.03,669.64 553.70,669.69 554.37,669.61 555.04,669.08 555.70,669.16 556.37,669.17 557.04,669.18 557.71,669.63 558.38,669.54 559.05,669.31 559.72,669.23 560.39,669.14 561.06,669.12 561.73,669.71 562.39,669.32 563.06,669.27 563.73,669.40 564.40,669.64 565.07,669.42 565.74,669.71 566.41,669.08 567.08,669.13 567.75,669.36 568.42,669.55 569.08,669.10 569.75,669.35 570.42,669.12 571.09,669.14 571.76,669.39 572.43,669.46 573.10,669.33 573.77,669.45 574.44,669.65 575.11,669.54 575.77,669.17 576.44,669.74 577.11,669.74 577.78,669.31 578.45,669.56 579.12,669.37 579.79,669.42 580.46,669.52 581.13,669.03 581.80,669.63 582.46,669.46 583.13,669.62 583.80,669.30 584.47,669.56 585.14,669.50 585.81,669.20 586.48,669.51 587.15,669.31 587.82,669.01 588.49,669.58 589.15,669.53 589.82,669.28 590.49,668.64 591.16,668.48 591.83,668.46 592.50,667.81 593.17,667.27 593.84,665.84 594.51,665.27 595.18,662.10 595.85,659.14 596.51,655.87 597.18,653.12 597.85,647.93 598.52,648.17 599.19,641.87 599.86,633.17 600.53,628.59 601.20,624.86 601.87,616.85 602.54,613.56 603.20,608.37 603.87,607.69 604.54,605.99 605.21,603.73 605.88,605.55 606.55,605.86 607.22,605.66 607.89,612.54 608.56,618.69 609.23,623.63 609.89,628.48 610.56,630.98 611.23,638.54 611.90,644.07 612.57,649.79 613.24,649.64 613.91,655.99 614.58,659.75 615.25,662.53 615.92,664.38 616.58,665.62 617.25,666.01 617.92,667.65 618.59,668.40 619.26,668.39 619.93,668.95 620.60,668.54 621.27,669.43 621.94,669.20 622.61,669.08 623.27,669.40 623.94,668.99 624.61,669.39 625.28,669.58 625.95,669.46 626.62,669.74 627.29,669.46 627.96,669.59 628.63,669.11 629.30,669.15 629.96,669.40 630.63,669.75 631.30,669.58 631.97,669.59 632.64,669.62 633.31,669.60 633.98,669.12 634.65,669.67 635.32,669.73 635.99,669.08 636.65,669.35 637.32,669.04 637.99,669.47 638.66,669.10 639.33,669.29 640.00,669.18" stroke="#6a5a70" stroke-width="0.6" fill="none" />
<rect x="536.60" y="541.60" width="128.90" height="128.40" fill="none" stroke="#777" stroke-width="0.7" />
<line x1="550.20" y1="541.60" x2="550.20" y2="670.00" stroke="#9fe69a" stroke-width="0.8" />
<line x1="605.40" y1="541.60" x2="605.40" y2="670.00" stroke="#86ecf2" stroke-width="0.8" />
<text x="550.70" y="548.90" font-size="4.6" font-weight="bold" text-anchor="start" fill="#000" >G1</text>
<text x="605.90" y="548.90" font-size="4.6" font-weight="bold" text-anchor="start" fill="#000" >G2</text>
<text x="533.40" y="670.00" font-size="4"  text-anchor="middle" fill="#000" transform="rotate(-90 533.40 670.00)" >0</text>
<line x1="535.10" y1="670.00" x2="536.60" y2="670.00" stroke="#555" stroke-width="0.5" />
<text x="533.40" y="637.90" font-size="4"  text-anchor="middle" fill="#000" transform="rotate(-90 533.40 637.90)" >80</text>
<line x1="535.10" y1="637.90" x2="536.60" y2="637.90" stroke="#555" stroke-width="0.5" />
<text x="533.40" y="605.80" font-size="4"  text-anchor="middle" fill="#000" transform="rotate(-90 533.40 605.80)" >160</text>
<line x1="535.10" y1="605.80" x2="536.60" y2="605.80" stroke="#555" stroke-width="0.5" />
<text x="533.40" y="573.70" font-size="4"  text-anchor="middle" fill="#000" transform="rotate(-90 533.40 573.70)" >240</text>
<line x1="535.10" y1="573.70" x2="536.60" y2="573.70" stroke="#555" stroke-width="0.5" />
<text x="533.40" y="541.60" font-size="4"  text-anchor="middle" fill="#000" transform="rotate(-90 533.40 541.60)" >320</text>
<line x1="535.10" y1="541.60" x2="536.60" y2="541.60" stroke="#555" stroke-width="0.5" />
<text x="525.60" y="605.80" font-size="4.3" font-weight="bold" text-anchor="middle" fill="#000" transform="rotate(-90 525.60 605.80)" >Count</text>
<text x="539.00" y="675.60" font-size="4"  text-anchor="middle" fill="#000" >210.4</text>
<line x1="539.00" y1="670.00" x2="539.00" y2="671.50" stroke="#555" stroke-width="0.5" />
<text x="557.00" y="675.60" font-size="4"  text-anchor="middle" fill="#000" >300</text>
<line x1="557.00" y1="670.00" x2="557.00" y2="671.50" stroke="#555" stroke-width="0.5" />
<text x="577.00" y="675.60" font-size="4"  text-anchor="middle" fill="#000" >400</text>
<line x1="577.00" y1="670.00" x2="577.00" y2="671.50" stroke="#555" stroke-width="0.5" />
<text x="597.00" y="675.60" font-size="4"  text-anchor="middle" fill="#000" >500</text>
<line x1="597.00" y1="670.00" x2="597.00" y2="671.50" stroke="#555" stroke-width="0.5" />
<text x="617.00" y="675.60" font-size="4"  text-anchor="middle" fill="#000" >600</text>
<line x1="617.00" y1="670.00" x2="617.00" y2="671.50" stroke="#555" stroke-width="0.5" />
<text x="637.00" y="675.60" font-size="4"  text-anchor="middle" fill="#000" >700</text>
<line x1="637.00" y1="670.00" x2="637.00" y2="671.50" stroke="#555" stroke-width="0.5" />
<text x="661.00" y="675.60" font-size="4"  text-anchor="middle" fill="#000" >816.8</text>
<line x1="661.00" y1="670.00" x2="661.00" y2="671.50" stroke="#555" stroke-width="0.5" />
<text x="601.05" y="683.50" font-size="4.5" font-weight="bold" text-anchor="middle" fill="#000" >PE-A  (10<tspan font-size="3" dy="-2">3</tspan><tspan dy="2">)</tspan></text>
<line x1="546.70" y1="693.30" x2="654.30" y2="693.30" stroke="#000" stroke-width="1.6" />
<line x1="546.70" y1="750.10" x2="654.30" y2="750.10" stroke="#000" stroke-width="1.6" />
<text x="551.10" y="706.20" font-size="10.2"  text-anchor="start" fill="#000" >G1</text>
<text x="649.70" y="706.20" font-size="10.2"  text-anchor="end" fill="#000" >0.91%</text>
<text x="551.10" y="724.90" font-size="10.2"  text-anchor="start" fill="#000" >S</text>
<text x="649.70" y="724.90" font-size="10.2"  text-anchor="end" fill="#000" >3.65%</text>
<text x="551.10" y="743.70" font-size="10.2"  text-anchor="start" fill="#000" >G2/M</text>
<text x="649.70" y="743.70" font-size="10.2"  text-anchor="end" fill="#000" >94.98%</text>
<text x="1.50" y="797.60" font-size="20.5"  text-anchor="start" fill="#000" >C</text>
<rect x="51.20" y="776.00" width="308.70" height="99.70" fill="none" stroke="#000" stroke-width="1.4" />
<text x="60.80" y="793.30" font-size="12.6" font-weight="bold" text-anchor="start" fill="#000" >H1975 xenograft</text>
<g><path d="M71,803.5 Q80,807 92,811 Q100,814 107,815.5" stroke="#e6c6c0" stroke-width="2.3" fill="none" stroke-linecap="round"/><ellipse cx="115" cy="826.5" rx="30" ry="1.6" fill="#f0f0f0"/><path d="M104,818 Q103,806 116,802 Q128,799 136,804 Q146,806 149,813 Q147,817 140,818 L136,822 Q128,826 118,825 Q106,824 104,818 Z" fill="#dcbcb2"/><path d="M108,820 Q112,823 122,824 Q130,824 134,821 Q126,818 116,818 Z" fill="#c9a398"/><ellipse cx="127" cy="803" rx="4.4" ry="5.4" fill="#e6c8c0" transform="rotate(-20 127 803)"/><ellipse cx="138.5" cy="801" rx="2.6" ry="3.6" fill="#e2b8ae" transform="rotate(15 138.5 801)"/><circle cx="141.5" cy="808" r="0.9" fill="#8a3a3a"/><circle cx="148.5" cy="812.5" r="1" fill="#d49a92"/><path d="M120,823 L118,826 M132,822 L133,826 M140,818 L141,822" stroke="#c9a096" stroke-width="1.2"/></g>
<line x1="162.20" y1="807.50" x2="320.00" y2="807.50" stroke="#000" stroke-width="3.4" />
<path d="M318,802.3 L328.6,807.6 L318,812.9 Z" fill="#000"/>
<line x1="163.20" y1="799.50" x2="163.20" y2="816.50" stroke="#000" stroke-width="2.1" />
<line x1="233.10" y1="799.50" x2="233.10" y2="816.50" stroke="#000" stroke-width="2.1" />
<line x1="303.20" y1="799.50" x2="303.20" y2="816.50" stroke="#000" stroke-width="2.1" />
<text x="162.80" y="829.30" font-size="12.6" font-weight="bold" text-anchor="middle" fill="#000" >1</text>
<text x="232.70" y="829.30" font-size="12.6" font-weight="bold" text-anchor="middle" fill="#000" >8</text>
<text x="296.60" y="829.30" font-size="12.6" font-weight="bold" text-anchor="start" fill="#000" >15 (days)</text>
<text x="145.00" y="845.70" font-size="12.6" font-weight="bold" text-anchor="end" fill="#000" >Docetaxel</text>
<text x="144.40" y="865.60" font-size="12.6" font-weight="bold" text-anchor="end" fill="#000" >CKD-516</text>
<line x1="163.20" y1="838.20" x2="163.20" y2="850.40" stroke="#8e8e8e" stroke-width="2.2" />
<path d="M159.50,839.70 L163.20,833.20 L166.90,839.70 Z" fill="#8e8e8e"/>
<line x1="163.20" y1="858.10" x2="163.20" y2="870.40" stroke="#000" stroke-width="2.2" />
<path d="M159.50,859.60 L163.20,853.10 L166.90,859.60 Z" fill="#000"/>
<line x1="233.10" y1="838.20" x2="233.10" y2="850.40" stroke="#8e8e8e" stroke-width="2.2" />
<path d="M229.40,839.70 L233.10,833.20 L236.80,839.70 Z" fill="#8e8e8e"/>
<line x1="233.10" y1="858.10" x2="233.10" y2="870.40" stroke="#000" stroke-width="2.2" />
<path d="M229.40,859.60 L233.10,853.10 L236.80,859.60 Z" fill="#000"/>
<line x1="303.20" y1="838.20" x2="303.20" y2="850.40" stroke="#8e8e8e" stroke-width="2.2" />
<path d="M299.50,839.70 L303.20,833.20 L306.90,839.70 Z" fill="#8e8e8e"/>
<line x1="303.20" y1="858.10" x2="303.20" y2="870.40" stroke="#000" stroke-width="2.2" />
<path d="M299.50,859.60 L303.20,853.10 L306.90,859.60 Z" fill="#000"/>
<line x1="109.50" y1="886.00" x2="109.50" y2="1072.50" stroke="#000" stroke-width="2" />
<line x1="108.50" y1="1071.50" x2="388.00" y2="1071.50" stroke="#000" stroke-width="2" />
<line x1="102.50" y1="1071.80" x2="109.50" y2="1071.80" stroke="#000" stroke-width="2" />
<text x="99.50" y="1077.00" font-size="14.5" font-weight="bold" text-anchor="end" fill="#000" >0</text>
<line x1="102.50" y1="1034.76" x2="109.50" y2="1034.76" stroke="#000" stroke-width="2" />
<text x="99.50" y="1039.96" font-size="14.5" font-weight="bold" text-anchor="end" fill="#000" >500</text>
<line x1="102.50" y1="997.72" x2="109.50" y2="997.72" stroke="#000" stroke-width="2" />
<text x="99.50" y="1002.92" font-size="14.5" font-weight="bold" text-anchor="end" fill="#000" >1000</text>
<line x1="102.50" y1="960.68" x2="109.50" y2="960.68" stroke="#000" stroke-width="2" />
<text x="99.50" y="965.88" font-size="14.5" font-weight="bold" text-anchor="end" fill="#000" >1500</text>
<line x1="102.50" y1="923.64" x2="109.50" y2="923.64" stroke="#000" stroke-width="2" />
<text x="99.50" y="928.84" font-size="14.5" font-weight="bold" text-anchor="end" fill="#000" >2000</text>
<line x1="102.50" y1="886.60" x2="109.50" y2="886.60" stroke="#000" stroke-width="2" />
<text x="99.50" y="891.80" font-size="14.5" font-weight="bold" text-anchor="end" fill="#000" >2500</text>
<line x1="133.30" y1="1071.50" x2="133.30" y2="1078.50" stroke="#000" stroke-width="2" />
<text x="133.30" y="1095.30" font-size="14.5" font-weight="bold" text-anchor="middle" fill="#000" >1</text>
<line x1="179.50" y1="1071.50" x2="179.50" y2="1078.50" stroke="#000" stroke-width="2" />
<text x="179.50" y="1095.30" font-size="14.5" font-weight="bold" text-anchor="middle" fill="#000" >4</text>
<line x1="225.70" y1="1071.50" x2="225.70" y2="1078.50" stroke="#000" stroke-width="2" />
<text x="225.70" y="1095.30" font-size="14.5" font-weight="bold" text-anchor="middle" fill="#000" >8</text>
<line x1="271.90" y1="1071.50" x2="271.90" y2="1078.50" stroke="#000" stroke-width="2" />
<text x="271.90" y="1095.30" font-size="14.5" font-weight="bold" text-anchor="middle" fill="#000" >11</text>
<line x1="318.10" y1="1071.50" x2="318.10" y2="1078.50" stroke="#000" stroke-width="2" />
<text x="318.10" y="1095.30" font-size="14.5" font-weight="bold" text-anchor="middle" fill="#000" >15</text>
<line x1="364.30" y1="1071.50" x2="364.30" y2="1078.50" stroke="#000" stroke-width="2" />
<text x="364.30" y="1095.30" font-size="14.5" font-weight="bold" text-anchor="middle" fill="#000" >18</text>
<text x="249.40" y="1121.00" font-size="18.5" font-weight="bold" text-anchor="middle" fill="#000" >Day</text>
<text x="57.20" y="976.50" font-size="18.2" font-weight="bold" text-anchor="middle" fill="#000" transform="rotate(-90 57.20 976.50)" >Tumor volume (mm<tspan font-size="11.8" dy="-7.2">3</tspan><tspan dy="7.2">)</tspan></text>
<polyline points="133.30,1062.30 179.50,1058.30 225.70,1045.00 271.90,1019.30 318.10,976.40 364.30,937.20" stroke="#000" stroke-width="2.1" fill="none" stroke-linejoin="round"/>
<polyline points="133.30,1062.30 179.50,1060.30 225.70,1049.50 271.90,1039.50 318.10,1034.60 364.30,1013.40" stroke="#000" stroke-width="2.1" fill="none" stroke-linejoin="round"/>
<polyline points="133.30,1062.30 179.50,1060.30 225.70,1048.00 271.90,1038.00 318.10,1034.60 364.30,1034.20" stroke="#000" stroke-width="2.1" fill="none" stroke-linejoin="round"/>
<polyline points="133.30,1062.30 179.50,1061.00 225.70,1055.50 271.90,1058.00 318.10,1060.40 364.30,1061.00" stroke="#000" stroke-width="2.1" fill="none" stroke-linejoin="round"/>
<path d="M133.30,1057.90 L137.70,1065.60 L128.90,1065.60 Z" fill="#000"/>
<line x1="179.50" y1="1058.80" x2="179.50" y2="1061.80" stroke="#000" stroke-width="1.6" />
<line x1="174.50" y1="1058.80" x2="184.50" y2="1058.80" stroke="#000" stroke-width="1.6" />
<line x1="174.50" y1="1061.80" x2="184.50" y2="1061.80" stroke="#000" stroke-width="1.6" />
<path d="M179.50,1055.90 L183.90,1063.60 L175.10,1063.60 Z" fill="#000"/>
<line x1="225.70" y1="1046.00" x2="225.70" y2="1050.00" stroke="#000" stroke-width="1.6" />
<line x1="220.70" y1="1046.00" x2="230.70" y2="1046.00" stroke="#000" stroke-width="1.6" />
<line x1="220.70" y1="1050.00" x2="230.70" y2="1050.00" stroke="#000" stroke-width="1.6" />
<path d="M225.70,1043.60 L230.10,1051.30 L221.30,1051.30 Z" fill="#000"/>
<line x1="271.90" y1="1034.00" x2="271.90" y2="1042.00" stroke="#000" stroke-width="1.6" />
<line x1="266.90" y1="1034.00" x2="276.90" y2="1034.00" stroke="#000" stroke-width="1.6" />
<line x1="266.90" y1="1042.00" x2="276.90" y2="1042.00" stroke="#000" stroke-width="1.6" />
<path d="M271.90,1033.60 L276.30,1041.30 L267.50,1041.30 Z" fill="#000"/>
<line x1="318.10" y1="1032.60" x2="318.10" y2="1036.60" stroke="#000" stroke-width="1.6" />
<line x1="313.10" y1="1032.60" x2="323.10" y2="1032.60" stroke="#000" stroke-width="1.6" />
<line x1="313.10" y1="1036.60" x2="323.10" y2="1036.60" stroke="#000" stroke-width="1.6" />
<path d="M318.10,1030.20 L322.50,1037.90 L313.70,1037.90 Z" fill="#000"/>
<line x1="364.30" y1="1029.70" x2="364.30" y2="1038.70" stroke="#000" stroke-width="1.6" />
<line x1="359.30" y1="1029.70" x2="369.30" y2="1029.70" stroke="#000" stroke-width="1.6" />
<line x1="359.30" y1="1038.70" x2="369.30" y2="1038.70" stroke="#000" stroke-width="1.6" />
<path d="M364.30,1029.80 L368.70,1037.50 L359.90,1037.50 Z" fill="#000"/>
<path d="M133.30,1066.70 L137.70,1059.00 L128.90,1059.00 Z" fill="#000"/>
<path d="M179.50,1065.40 L183.90,1057.70 L175.10,1057.70 Z" fill="#000"/>
<path d="M225.70,1059.90 L230.10,1052.20 L221.30,1052.20 Z" fill="#000"/>
<path d="M271.90,1062.40 L276.30,1054.70 L267.50,1054.70 Z" fill="#000"/>
<path d="M318.10,1064.80 L322.50,1057.10 L313.70,1057.10 Z" fill="#000"/>
<path d="M364.30,1065.40 L368.70,1057.70 L359.90,1057.70 Z" fill="#000"/>
<circle cx="133.30" cy="1062.30" r="3.90" fill="#000"/>
<line x1="179.50" y1="1056.80" x2="179.50" y2="1059.80" stroke="#000" stroke-width="1.6" />
<line x1="174.50" y1="1056.80" x2="184.50" y2="1056.80" stroke="#000" stroke-width="1.6" />
<line x1="174.50" y1="1059.80" x2="184.50" y2="1059.80" stroke="#000" stroke-width="1.6" />
<circle cx="179.50" cy="1058.30" r="3.90" fill="#000"/>
<line x1="225.70" y1="1042.50" x2="225.70" y2="1047.50" stroke="#000" stroke-width="1.6" />
<line x1="220.70" y1="1042.50" x2="230.70" y2="1042.50" stroke="#000" stroke-width="1.6" />
<line x1="220.70" y1="1047.50" x2="230.70" y2="1047.50" stroke="#000" stroke-width="1.6" />
<circle cx="225.70" cy="1045.00" r="3.90" fill="#000"/>
<line x1="271.90" y1="1015.30" x2="271.90" y2="1023.30" stroke="#000" stroke-width="1.6" />
<line x1="266.90" y1="1015.30" x2="276.90" y2="1015.30" stroke="#000" stroke-width="1.6" />
<line x1="266.90" y1="1023.30" x2="276.90" y2="1023.30" stroke="#000" stroke-width="1.6" />
<circle cx="271.90" cy="1019.30" r="3.90" fill="#000"/>
<line x1="318.10" y1="966.40" x2="318.10" y2="986.40" stroke="#000" stroke-width="1.6" />
<line x1="313.10" y1="966.40" x2="323.10" y2="966.40" stroke="#000" stroke-width="1.6" />
<line x1="313.10" y1="986.40" x2="323.10" y2="986.40" stroke="#000" stroke-width="1.6" />
<circle cx="318.10" cy="976.40" r="3.90" fill="#000"/>
<line x1="364.30" y1="921.50" x2="364.30" y2="952.90" stroke="#000" stroke-width="1.6" />
<line x1="359.30" y1="921.50" x2="369.30" y2="921.50" stroke="#000" stroke-width="1.6" />
<line x1="359.30" y1="952.90" x2="369.30" y2="952.90" stroke="#000" stroke-width="1.6" />
<circle cx="364.30" cy="937.20" r="3.90" fill="#000"/>
<rect x="129.40" y="1058.40" width="7.80" height="7.80" fill="#000"/>
<line x1="179.50" y1="1058.80" x2="179.50" y2="1061.80" stroke="#000" stroke-width="1.6" />
<line x1="174.50" y1="1058.80" x2="184.50" y2="1058.80" stroke="#000" stroke-width="1.6" />
<line x1="174.50" y1="1061.80" x2="184.50" y2="1061.80" stroke="#000" stroke-width="1.6" />
<rect x="175.60" y="1056.40" width="7.80" height="7.80" fill="#000"/>
<line x1="225.70" y1="1047.50" x2="225.70" y2="1051.50" stroke="#000" stroke-width="1.6" />
<line x1="220.70" y1="1047.50" x2="230.70" y2="1047.50" stroke="#000" stroke-width="1.6" />
<line x1="220.70" y1="1051.50" x2="230.70" y2="1051.50" stroke="#000" stroke-width="1.6" />
<rect x="221.80" y="1045.60" width="7.80" height="7.80" fill="#000"/>
<line x1="271.90" y1="1035.00" x2="271.90" y2="1044.00" stroke="#000" stroke-width="1.6" />
<line x1="266.90" y1="1035.00" x2="276.90" y2="1035.00" stroke="#000" stroke-width="1.6" />
<line x1="266.90" y1="1044.00" x2="276.90" y2="1044.00" stroke="#000" stroke-width="1.6" />
<rect x="268.00" y="1035.60" width="7.80" height="7.80" fill="#000"/>
<line x1="318.10" y1="1032.10" x2="318.10" y2="1037.10" stroke="#000" stroke-width="1.6" />
<line x1="313.10" y1="1032.10" x2="323.10" y2="1032.10" stroke="#000" stroke-width="1.6" />
<line x1="313.10" y1="1037.10" x2="323.10" y2="1037.10" stroke="#000" stroke-width="1.6" />
<rect x="314.20" y="1030.70" width="7.80" height="7.80" fill="#000"/>
<line x1="364.30" y1="1008.90" x2="364.30" y2="1017.90" stroke="#000" stroke-width="1.6" />
<line x1="359.30" y1="1008.90" x2="369.30" y2="1008.90" stroke="#000" stroke-width="1.6" />
<line x1="359.30" y1="1017.90" x2="369.30" y2="1017.90" stroke="#000" stroke-width="1.6" />
<rect x="360.40" y="1009.50" width="7.80" height="7.80" fill="#000"/>
<line x1="121.50" y1="892.20" x2="140.20" y2="892.20" stroke="#000" stroke-width="2" />
<circle cx="130.80" cy="892.20" r="3.12" fill="#000"/>
<text x="152.20" y="897.60" font-size="15" font-weight="bold" text-anchor="start" fill="#000" >Vehicle</text>
<line x1="121.50" y1="917.50" x2="140.20" y2="917.50" stroke="#000" stroke-width="2" />
<rect x="127.68" y="914.38" width="6.24" height="6.24" fill="#000"/>
<text x="152.20" y="922.90" font-size="15" font-weight="bold" text-anchor="start" fill="#000" >CKD-516 3 mg/kg</text>
<line x1="121.50" y1="942.10" x2="140.20" y2="942.10" stroke="#000" stroke-width="2" />
<path d="M130.80,938.58 L134.32,944.74 L127.28,944.74 Z" fill="#000"/>
<text x="152.20" y="947.50" font-size="15" font-weight="bold" text-anchor="start" fill="#000" >Docetaxel 6 mg/kg</text>
<line x1="121.50" y1="966.70" x2="140.20" y2="966.70" stroke="#000" stroke-width="2" />
<path d="M130.80,970.22 L134.32,964.06 L127.28,964.06 Z" fill="#000"/>
<text x="152.20" y="972.10" font-size="15" font-weight="bold" text-anchor="start" fill="#000" >Combination</text>
<text x="373.50" y="1021.60" font-size="17.2" font-weight="bold" text-anchor="start" fill="#000" letter-spacing="1.6">**</text>
<text x="373.50" y="1043.40" font-size="17.2" font-weight="bold" text-anchor="start" fill="#000" letter-spacing="1.6">***</text>
<text x="373.50" y="1069.20" font-size="17.2" font-weight="bold" text-anchor="start" fill="#000" letter-spacing="1.6">***</text>
<polyline points="409.50,1031.50 418.90,1031.50 418.90,1060.10 409.50,1060.10" stroke="#000" stroke-width="2.6" fill="none" />
<polyline points="443.60,1009.00 452.90,1009.00 452.90,1060.70 443.60,1060.70" stroke="#000" stroke-width="2.6" fill="none" />
<text x="432.00" y="1049.50" font-size="11.8" font-weight="bold" text-anchor="middle" fill="#000" stroke="#000" stroke-width="0.4">###</text>
<text x="466.50" y="1039.00" font-size="11.8" font-weight="bold" text-anchor="middle" fill="#000" stroke="#000" stroke-width="0.4">###</text>
<text x="487.30" y="797.00" font-size="22"  text-anchor="start" fill="#000" >D</text>
<line x1="597.00" y1="820.00" x2="597.00" y2="1006.00" stroke="#000" stroke-width="2" />
<line x1="596.00" y1="1005.30" x2="720.00" y2="1005.30" stroke="#000" stroke-width="2" />
<line x1="590.00" y1="1005.30" x2="597.00" y2="1005.30" stroke="#000" stroke-width="2" />
<text x="588.00" y="1010.20" font-size="13.5" font-weight="bold" text-anchor="end" fill="#000" >0</text>
<line x1="590.00" y1="959.17" x2="597.00" y2="959.17" stroke="#000" stroke-width="2" />
<text x="588.00" y="964.07" font-size="13.5" font-weight="bold" text-anchor="end" fill="#000" >1000</text>
<line x1="590.00" y1="913.05" x2="597.00" y2="913.05" stroke="#000" stroke-width="2" />
<text x="588.00" y="917.95" font-size="13.5" font-weight="bold" text-anchor="end" fill="#000" >2000</text>
<line x1="590.00" y1="866.92" x2="597.00" y2="866.92" stroke="#000" stroke-width="2" />
<text x="588.00" y="871.82" font-size="13.5" font-weight="bold" text-anchor="end" fill="#000" >3000</text>
<line x1="590.00" y1="820.80" x2="597.00" y2="820.80" stroke="#000" stroke-width="2" />
<text x="588.00" y="825.70" font-size="13.5" font-weight="bold" text-anchor="end" fill="#000" >4000</text>
<line x1="611.50" y1="1005.30" x2="611.50" y2="1011.00" stroke="#000" stroke-width="2" />
<text x="616.50" y="1023.00" font-size="14" font-weight="bold" text-anchor="end" fill="#000" transform="rotate(-45 616.50 1023.00)" >Vehicle</text>
<line x1="642.50" y1="1005.30" x2="642.50" y2="1011.00" stroke="#000" stroke-width="2" />
<text x="647.50" y="1023.00" font-size="14" font-weight="bold" text-anchor="end" fill="#000" transform="rotate(-45 647.50 1023.00)" >CKD-516 3 mg/kg</text>
<line x1="673.30" y1="1005.30" x2="673.30" y2="1011.00" stroke="#000" stroke-width="2" />
<text x="678.30" y="1023.00" font-size="14" font-weight="bold" text-anchor="end" fill="#000" transform="rotate(-45 678.30 1023.00)" >Docetaxel 6 mg/kg</text>
<line x1="704.20" y1="1005.30" x2="704.20" y2="1011.00" stroke="#000" stroke-width="2" />
<text x="709.20" y="1023.00" font-size="14" font-weight="bold" text-anchor="end" fill="#000" transform="rotate(-45 709.20 1023.00)" >Combination</text>
<text x="548.30" y="912.30" font-size="18.2" font-weight="bold" text-anchor="middle" fill="#000" transform="rotate(-90 548.30 912.30)" >Tumor volume (mm<tspan font-size="11.8" dy="-7.2">3</tspan><tspan dy="7.2">)</tspan></text>
<circle cx="611.6" cy="852.5" r="3.7" fill="#000"/>
<circle cx="614.3" cy="898.3" r="3.7" fill="#000"/>
<circle cx="608.7" cy="901.5" r="3.7" fill="#000"/>
<circle cx="611.5" cy="918" r="3.7" fill="#000"/>
<circle cx="608.7" cy="927.3" r="3.7" fill="#000"/>
<circle cx="618" cy="927.3" r="3.7" fill="#000"/>
<circle cx="605" cy="934.4" r="3.7" fill="#000"/>
<circle cx="612" cy="941.3" r="3.7" fill="#000"/>
<circle cx="618.4" cy="940.4" r="3.7" fill="#000"/>
<circle cx="611.5" cy="970.3" r="3.7" fill="#000"/>
<circle cx="613.4" cy="929.2" r="3.7" fill="#000"/>
<line x1="601.60" y1="921.30" x2="621.80" y2="921.30" stroke="#000" stroke-width="2" />
<line x1="611.60" y1="910.80" x2="611.60" y2="921.30" stroke="#000" stroke-width="2" />
<line x1="607.00" y1="910.80" x2="616.50" y2="910.80" stroke="#000" stroke-width="2" />
<path d="M642.70,942.22 L646.88,949.53 L638.52,949.53 Z" fill="#000"/>
<path d="M640.00,957.72 L644.18,965.03 L635.82,965.03 Z" fill="#000"/>
<path d="M645.00,956.82 L649.18,964.13 L640.82,964.13 Z" fill="#000"/>
<path d="M636.40,962.72 L640.58,970.03 L632.22,970.03 Z" fill="#000"/>
<path d="M648.00,965.12 L652.18,972.43 L643.82,972.43 Z" fill="#000"/>
<path d="M642.30,964.22 L646.48,971.53 L638.12,971.53 Z" fill="#000"/>
<path d="M638.20,979.22 L642.38,986.53 L634.02,986.53 Z" fill="#000"/>
<path d="M647.00,978.22 L651.18,985.53 L642.82,985.53 Z" fill="#000"/>
<path d="M642.30,973.62 L646.48,980.93 L638.12,980.93 Z" fill="#000"/>
<line x1="632.60" y1="968.80" x2="652.60" y2="968.80" stroke="#000" stroke-width="2" />
<rect x="663.29" y="966.79" width="7.41" height="7.41" fill="#000"/>
<rect x="672.29" y="965.29" width="7.41" height="7.41" fill="#000"/>
<rect x="676.29" y="969.29" width="7.41" height="7.41" fill="#000"/>
<rect x="666.29" y="971.29" width="7.41" height="7.41" fill="#000"/>
<rect x="662.29" y="974.29" width="7.41" height="7.41" fill="#000"/>
<rect x="671.29" y="973.29" width="7.41" height="7.41" fill="#000"/>
<rect x="677.29" y="976.29" width="7.41" height="7.41" fill="#000"/>
<rect x="665.29" y="979.29" width="7.41" height="7.41" fill="#000"/>
<rect x="673.29" y="981.29" width="7.41" height="7.41" fill="#000"/>
<rect x="667.29" y="983.29" width="7.41" height="7.41" fill="#000"/>
<rect x="668.50" y="991.79" width="7.41" height="7.41" fill="#000"/>
<rect x="671.29" y="989.29" width="7.41" height="7.41" fill="#000"/>
<line x1="664.00" y1="979.00" x2="684.00" y2="979.00" stroke="#000" stroke-width="2" />
<path d="M697.00,999.96 L700.96,993.03 L693.04,993.03 Z" fill="#000"/>
<path d="M701.00,1000.96 L704.96,994.03 L697.04,994.03 Z" fill="#000"/>
<path d="M705.00,1000.46 L708.96,993.53 L701.04,993.53 Z" fill="#000"/>
<path d="M709.00,1000.96 L712.96,994.03 L705.04,994.03 Z" fill="#000"/>
<path d="M713.00,1001.46 L716.96,994.53 L709.04,994.53 Z" fill="#000"/>
<path d="M699.00,1002.96 L702.96,996.03 L695.04,996.03 Z" fill="#000"/>
<path d="M704.00,1003.46 L707.96,996.53 L700.04,996.53 Z" fill="#000"/>
<path d="M708.00,1002.96 L711.96,996.03 L704.04,996.03 Z" fill="#000"/>
<path d="M702.00,998.46 L705.96,991.53 L698.04,991.53 Z" fill="#000"/>
<line x1="694.00" y1="998.00" x2="715.00" y2="998.00" stroke="#000" stroke-width="2" />
<text x="631.50" y="939.50" font-size="17.2" font-weight="bold" text-anchor="start" fill="#000" letter-spacing="1.6">***</text>
<text x="662.50" y="961.50" font-size="17.2" font-weight="bold" text-anchor="start" fill="#000" letter-spacing="1.6">***</text>
<text x="693.70" y="986.50" font-size="17.2" font-weight="bold" text-anchor="start" fill="#000" letter-spacing="1.6">***</text>
<polyline points="646.60,910.50 646.60,882.40 709.00,882.40 709.00,957.20" stroke="#000" stroke-width="2.6" fill="none" />
<polyline points="675.40,928.80 675.40,916.00 709.00,916.00" stroke="#000" stroke-width="2.6" fill="none" />
<text x="675.30" y="874.40" font-size="11.8" font-weight="bold" text-anchor="middle" fill="#000" stroke="#000" stroke-width="0.4">###</text>
<text x="689.40" y="909.00" font-size="11.8" font-weight="bold" text-anchor="middle" fill="#000" stroke="#000" stroke-width="0.4">###</text>
</svg>
</body></html>
